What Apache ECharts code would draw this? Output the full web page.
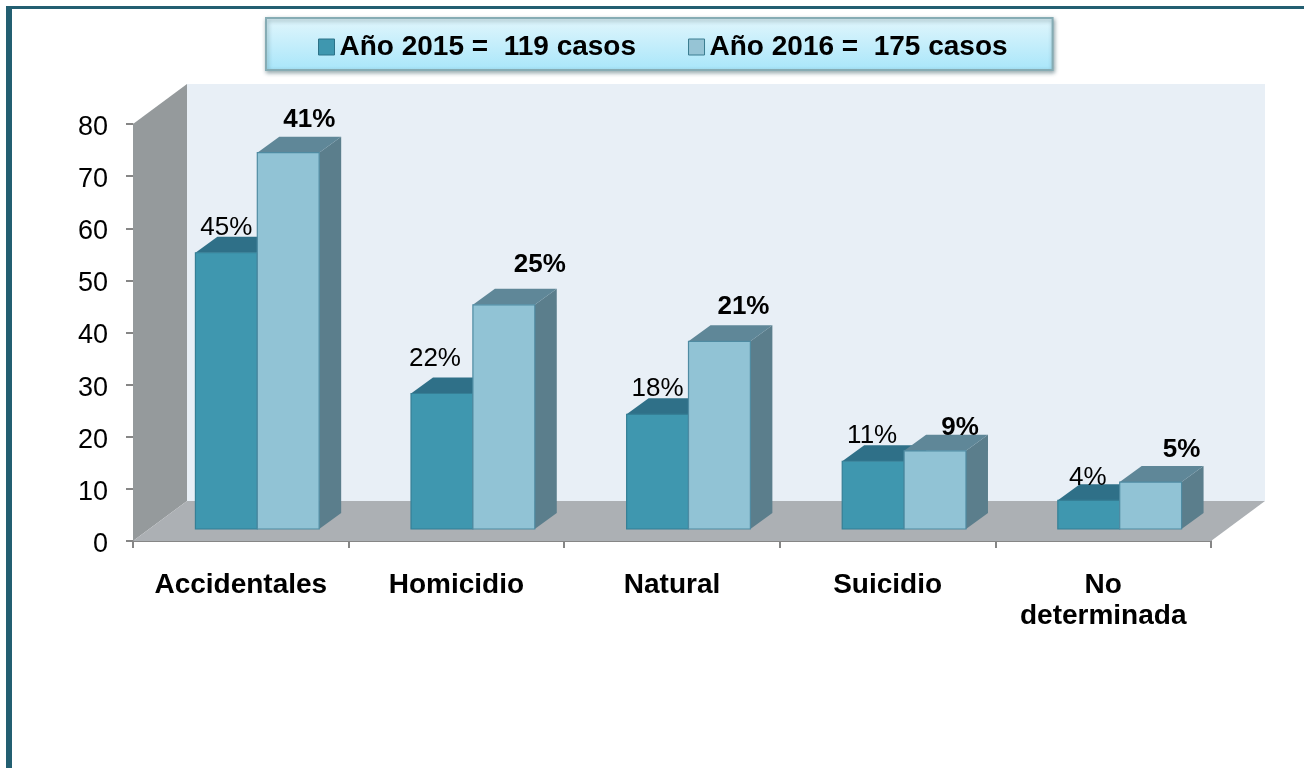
<!DOCTYPE html>
<html>
<head>
<meta charset="utf-8">
<style>html,body{margin:0;padding:0;background:#fff}#c{width:1304px;height:768px}</style>
<script src="https://cdn.jsdelivr.net/npm/echarts@6/dist/echarts.min.js"></script>
</head>
<body>
<div id="c"></div>
<script>
const categories = ['Accidentales', 'Homicidio', 'Natural', 'Suicidio', 'No\ndeterminada'];
const yTicks = [0, 80, 10];
const seriesNames = ['Año 2015 =  119 casos', 'Año 2016 =  175 casos'];
const values2015 = [53, 26, 22, 13, 5.5];
const values2016 = [72.2, 43, 36, 15, 9];
const percents2015 = ['45%', '22%', '18%', '11%', '4%'];
const percents2016 = ['41%', '25%', '21%', '9%', '5%'];

// label nudges relative to the bar's front-top centre (styling, not data)
const nudge2015 = [[0, -25], [-7, -35], [0, -25], [-1, -25], [-1, -23]];
const nudge2016 = [[21, -33], [36, -40], [24, -35], [25, -23], [31, -32]];

const FONT = '"Liberation Sans", Arial, sans-serif';
const WALL = [54, -40];   // depth of the chart box
const BASE = [16.5, -12]; // bar front base offset from the axis
const BAR_D = [22, -16];  // bar depth
const BAR_W = 0.287;      // share of category band per bar

function poly(pts, fill, z2) {
  return { type: 'polygon', z2: z2 || 0, shape: { points: pts }, style: { fill: fill } };
}

function boxRenderer(values, labels, nudges, side, colors, bold) {
  return function (params, api) {
    const i = api.value(0), v = api.value(1);
    const band = api.size([1, 0])[0];
    const w = band * BAR_W;
    const c0 = api.coord([i, 0]), c1 = api.coord([i, v]);
    const xl = side === 0 ? c0[0] + BASE[0] - w : c0[0] + BASE[0];
    const xr = xl + w;
    const yb = c0[1] + BASE[1], yt = c1[1] + BASE[1];
    const dx = BAR_D[0], dy = BAR_D[1];
    const n = nudges[i];
    return {
      type: 'group',
      children: [
        poly([[xr, yb], [xr + dx, yb + dy], [xr + dx, yt + dy], [xr, yt]], colors.side),
        poly([[xl, yt], [xr, yt], [xr + dx, yt + dy], [xl + dx, yt + dy]], colors.top),
        { type: 'rect', shape: { x: xl, y: yt, width: w, height: yb - yt },
          style: { fill: colors.front, stroke: colors.edge, lineWidth: 1.2 } },
        { type: 'text', z2: 5, style: {
            x: (xl + xr) / 2 + n[0], y: yt + n[1], text: labels[i],
            fill: '#000', align: 'center', verticalAlign: 'middle',
            font: (bold ? 'bold ' : '') + '26px ' + FONT } }
      ]
    };
  };
}

const chart = echarts.init(document.getElementById('c'), null, { renderer: 'canvas', width: 1304, height: 768 });
chart.setOption({
  animation: false,
  backgroundColor: '#ffffff',
  graphic: [
    { type: 'rect', shape: { x: 6, y: 6, width: 1298, height: 3 }, style: { fill: '#235F71' }, z: 10 },
    { type: 'rect', shape: { x: 6, y: 6, width: 6, height: 762 }, style: { fill: '#235F71' }, z: 10 }
  ],
  legend: {
    left: 266, top: 18,
    padding: [15, 45, 9, 52],
    itemGap: 52, itemWidth: 16, itemHeight: 16,
    icon: 'rect',
    data: [
      { name: seriesNames[0], itemStyle: { color: '#3F97AF', borderColor: '#2C7288', borderWidth: 1 } },
      { name: seriesNames[1], itemStyle: { color: '#96C4D5', borderColor: '#3A7C90', borderWidth: 1 } }
    ],
    textStyle: { fontFamily: FONT, fontWeight: 'bold', fontSize: 28, color: '#000' },
    backgroundColor: { type: 'linear', x: 0, y: 0, x2: 0, y2: 1,
      colorStops: [{ offset: 0, color: '#E2F6FC' }, { offset: 1, color: '#A8E6FA' }] },
    borderColor: '#86ACB4', borderWidth: 2,
    shadowColor: 'rgba(40,80,90,0.45)', shadowBlur: 4, shadowOffsetX: 1, shadowOffsetY: 2
  },
  grid: { left: 133, top: 124, width: 1078, height: 417, containLabel: false },
  xAxis: {
    type: 'category', data: categories,
    axisLine: { lineStyle: { color: '#868686', width: 2 } },
    axisTick: { show: true, length: 7, lineStyle: { color: '#868686', width: 2 } },
    axisLabel: { interval: 0, margin: 29, fontFamily: FONT, fontWeight: 'bold', fontSize: 28, color: '#000', lineHeight: 31 }
  },
  yAxis: {
    type: 'value', min: yTicks[0], max: yTicks[1], interval: yTicks[2],
    splitLine: { show: false },
    axisLine: { show: true, lineStyle: { color: '#949A9C', width: 1 } },
    axisTick: { show: true, length: 7, lineStyle: { color: '#868686', width: 2 } },
    axisLabel: {
      margin: 25, formatter: '{t|{value}}',
      rich: { t: { padding: [7, 0, 0, 0], fontFamily: FONT, fontSize: 27, color: '#000' } }
    }
  },
  series: [
    {
      type: 'custom', silent: true, z: 1, data: [[0, 0]], legendHoverLink: false,
      renderItem: function (params, api) {
        const a = api.coord([0, yTicks[0]]), top = api.coord([0, yTicks[1]])[1];
        const s = api.size([1, 0])[0];
        const l = a[0] - s / 2, r = l + s * categories.length, b = a[1];
        const dx = WALL[0], dy = WALL[1];
        return { type: 'group', children: [
          { type: 'rect', shape: { x: l + dx, y: top + dy, width: r - l, height: b - top },
            style: { fill: '#E8EFF6' } },
          poly([[l, top], [l + dx, top + dy], [l + dx, b + dy], [l, b]], '#959A9C'),
          poly([[l, b], [l + dx, b + dy], [r + dx, b + dy], [r, b]], '#ACB0B4')
        ] };
      }
    },
    {
      name: seriesNames[0], type: 'custom', z: 2,
      data: values2015.map((v, i) => [i, v]),
      renderItem: boxRenderer(values2015, percents2015, nudge2015, 0,
        { front: '#3F97AF', top: '#2F7088', side: '#2F6B80', edge: '#357F96' }, false)
    },
    {
      name: seriesNames[1], type: 'custom', z: 3,
      data: values2016.map((v, i) => [i, v]),
      renderItem: boxRenderer(values2016, percents2016, nudge2016, 1,
        { front: '#91C3D5', top: '#5F8798', side: '#5B7E8C', edge: '#4F8BA2' }, true)
    }
  ]
});
</script>
</body>
</html>
